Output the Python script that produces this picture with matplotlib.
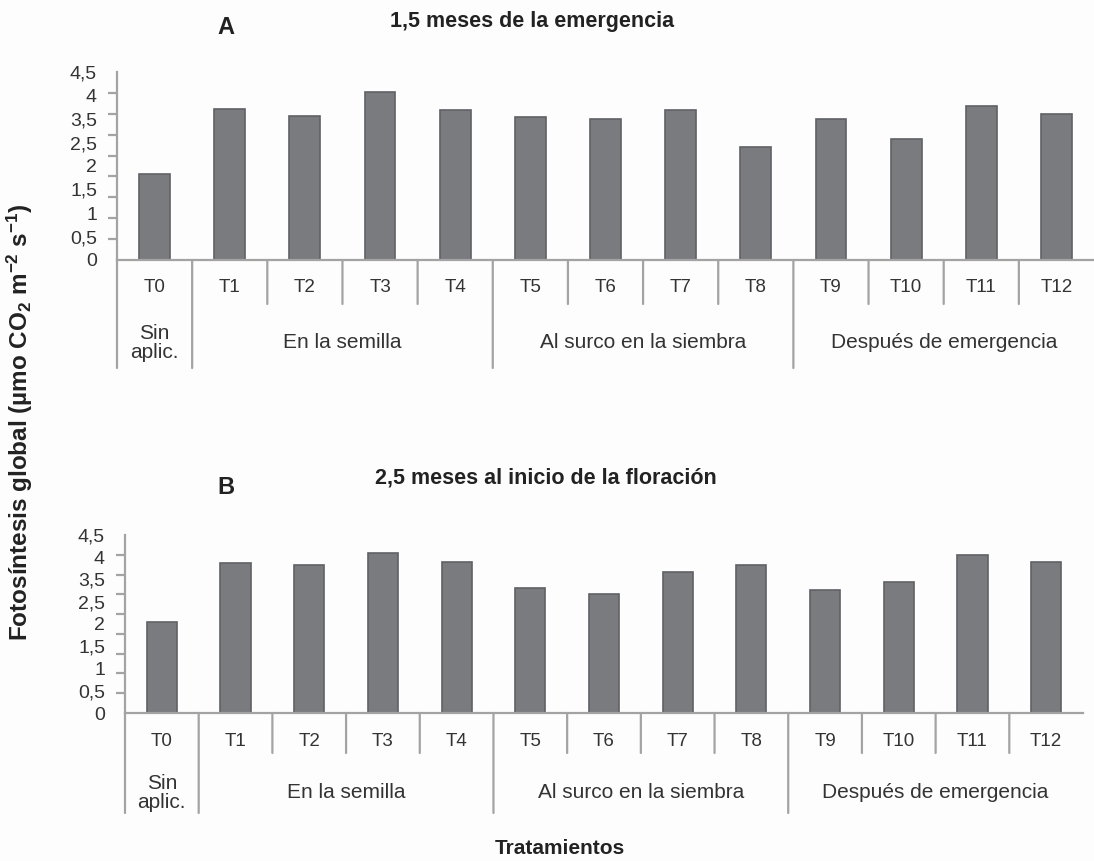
import matplotlib.pyplot as plt
import numpy as np
from matplotlib import font_manager

W, H = 1094, 861
PT = 72 / 100  # points per pixel at dpi=100

treatments = ["T0", "T1", "T2", "T3", "T4", "T5", "T6",
              "T7", "T8", "T9", "T10", "T11", "T12"]
fotosintesis_a = [2.07, 3.62, 3.44, 4.02, 3.58, 3.42, 3.38,
                  3.58, 2.71, 3.38, 2.90, 3.68, 3.49]
fotosintesis_b = [2.29, 3.78, 3.74, 4.04, 3.83, 3.16, 3.01,
                  3.57, 3.73, 3.11, 3.32, 4.00, 3.83]
y_tick_labels = ["0", "0,5", "1", "1,5", "2", "2,5", "3,5", "4", "4,5"]
groups = ["Sin\naplic.", "En la semilla", "Al surco en la siembra",
          "Después de emergencia"]
group_first = [0, 1, 5, 9]
group_last = [0, 4, 8, 12]

BAR = "#7a7b7f"
BAR_EDGE = "#606165"
LINE = "#a3a3a3"
TEXT = "#333333"

names = {f.name for f in font_manager.fontManager.ttflist}
narrow = "Liberation Sans Narrow" if "Liberation Sans Narrow" in names else "Liberation Sans"

plt.rcParams["font.family"] = "Liberation Sans"
plt.rcParams["mathtext.fontset"] = "custom"
plt.rcParams["mathtext.rm"] = "Liberation Sans:bold"
plt.rcParams["mathtext.default"] = "rm"
plt.rcParams["text.color"] = TEXT


def axes_rect(left, right, top, bottom):
    return [left / W, 1 - bottom / H, (right - left) / W, (bottom - top) / H]


def draw_panel(ax, values, label_px, group_px, short_px, long_px):
    x = np.arange(len(treatments))
    ax.bar(x, values, width=0.41, color=BAR, edgecolor=BAR_EDGE, linewidth=1.2,
           zorder=2)
    ax.set_xlim(-0.5, len(treatments) - 0.5)
    ax.set_ylim(0, 4.5)
    ax.set_facecolor("none")

    for s in ["top", "right"]:
        ax.spines[s].set_visible(False)
    for s in ["left", "bottom"]:
        ax.spines[s].set_color(LINE)
        ax.spines[s].set_linewidth(1.6)

    # labels spread evenly, tick marks every 0.5
    ax.set_yticks(np.linspace(0, 4.5, len(y_tick_labels)), labels=y_tick_labels)
    ax.tick_params(axis="y", which="major", length=0, pad=20 * PT,
                   labelsize=14, labelcolor=TEXT)
    ax.set_yticks(np.arange(0, 4.51, 0.5), minor=True)
    ax.tick_params(axis="y", which="minor", length=9 * PT, width=1.6, color=LINE)
    ax.set_xticks([])

    coords = ("data", "axes fraction")
    for i, t in enumerate(treatments):
        ax.annotate(t, (i, 0), xycoords=coords, xytext=(0, -label_px * PT),
                    textcoords="offset points", ha="center", va="center",
                    fontsize=13.5, color=TEXT)

    long_edges = [f - 0.5 for f in group_first]
    for k in range(len(treatments)):
        edge = k - 0.5
        depth = long_px if edge in long_edges else short_px
        ax.annotate("", (edge, 0), xycoords=coords, xytext=(0, -depth * PT),
                    textcoords="offset points",
                    arrowprops=dict(arrowstyle="-", color=LINE, lw=1.6,
                                    shrinkA=0, shrinkB=0))

    for name, a, b in zip(groups, group_first, group_last):
        ax.annotate(name, ((a + b) / 2, 0), xycoords=coords,
                    xytext=(0, -group_px * PT), textcoords="offset points",
                    ha="center", va="center", fontsize=15, color=TEXT,
                    linespacing=0.95)


fig = plt.figure(figsize=(W / 100, H / 100), dpi=100, facecolor="#fdfdfd")

ax_a = fig.add_axes(axes_rect(117, 1094, 72, 260))
draw_panel(ax_a, fotosintesis_a, 27, 83, 44, 108)

ax_b = fig.add_axes(axes_rect(125, 1083, 535, 713))
draw_panel(ax_b, fotosintesis_b, 29, 80, 40, 100)

fig.text(226 / W, 1 - 28 / H, "A", fontsize=17, fontweight="bold",
         ha="center", va="center", color="#222222")
fig.text(532 / W, 1 - 22 / H, "1,5 meses de la emergencia", family=narrow,
         fontsize=15.5, fontweight="bold", ha="center", va="center", color="#222222")
fig.text(226 / W, 1 - 488 / H, "B", fontsize=17, fontweight="bold",
         ha="center", va="center", color="#222222")
fig.text(546 / W, 1 - 478 / H, "2,5 meses al inicio de la floración", family=narrow,
         fontsize=15.5, fontweight="bold", ha="center", va="center", color="#222222")

fig.text(20 / W, 1 - 422 / H,
         r"Fotosíntesis global (µmo CO$_2$ m$^{-2}$ s$^{-1}$)",
         rotation=90, fontsize=17.5, fontweight="bold", ha="center", va="center",
         color="#222222")
fig.text(560 / W, 1 - 848 / H, "Tratamientos", family=narrow, fontsize=15,
         fontweight="bold", ha="center", va="center", color="#222222")

fig.savefig("out.png", dpi=100, facecolor=fig.get_facecolor())
